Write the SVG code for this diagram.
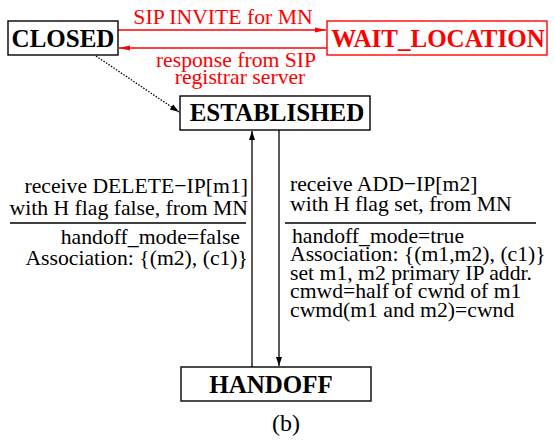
<svg xmlns="http://www.w3.org/2000/svg" width="555" height="443" viewBox="0 0 555 443">
<style>
text{font-family:"Liberation Serif","Times New Roman",serif;font-size:21.7px;fill:#000}
.title{font-weight:bold;font-size:25px;text-anchor:middle}
.red{fill:#ff0000}
.box{fill:#fff;stroke:#000;stroke-width:1.4}
.rbox{fill:#fff;stroke:#ff0000;stroke-width:1.4}
.ln{stroke:#000;stroke-width:1.3;fill:none}
.rln{stroke:#ff0000;stroke-width:1.3;fill:none}
.end{text-anchor:end}
.mid{text-anchor:middle}
</style>
<defs>
<marker id="ah" markerWidth="10" markerHeight="8" refX="9" refY="4" orient="auto" markerUnits="userSpaceOnUse">
<path d="M0,1 L9,4 L0,7 Z" fill="#000"/>
</marker>
<marker id="rah" markerWidth="12" markerHeight="8" refX="11" refY="4" orient="auto" markerUnits="userSpaceOnUse">
<path d="M0,1.5 L11,4 L0,6.5 Z" fill="#ff0000"/>
</marker>
</defs>
<g id="connectors">
<line class="rln" x1="118" y1="30" x2="326" y2="30" marker-end="url(#rah)"/>
<line class="rln" x1="327" y1="48" x2="119" y2="48" marker-end="url(#rah)"/>
<line class="ln" x1="96" y1="56" x2="179" y2="112" stroke-dasharray="1.5,1.5" marker-end="url(#ah)"/>
<line class="ln" x1="252" y1="367" x2="252" y2="131" marker-end="url(#ah)"/>
<line class="ln" x1="279" y1="130" x2="279" y2="366" marker-end="url(#ah)"/>
<text class="red mid" x="223" y="24">SIP INVITE for MN</text>
<text class="red mid" x="236" y="67">response from SIP</text>
<text class="red mid" x="240" y="84">registrar server</text>
<g id="left-label">
<text class="end" x="248" y="193">receive DELETE−IP[m1]</text>
<text class="end" x="248" y="215">with H flag false, from MN</text>
<line class="ln" x1="10" y1="223" x2="246" y2="223"/>
<text class="end" x="240" y="244">handoff_mode=false</text>
<text class="end" x="248" y="265">Association: {(m2), (c1)}</text>
</g>
<g id="right-label">
<text x="290" y="191">receive ADD−IP[m2]</text>
<text x="290" y="211">with H flag set, from MN</text>
<line class="ln" x1="285" y1="223" x2="536" y2="223"/>
<text x="292" y="243">handoff_mode=true</text>
<text x="290" y="261">Association: {(m1,m2), (c1)}</text>
<text x="290" y="280">set m1, m2 primary IP addr.</text>
<text x="290" y="298">cmwd=half of cwnd of m1</text>
<text x="290" y="317">cwmd(m1 and m2)=cwnd</text>
</g>
</g>
<g id="closed">
<rect class="box" x="8" y="21" width="110" height="34"/>
<text class="title" x="63" y="47">CLOSED</text>
</g>
<g id="wait_location">
<rect class="rbox" x="327" y="21" width="220" height="34"/>
<text class="title red" x="438" y="47">WAIT_LOCATION</text>
</g>
<g id="established">
<rect class="box" x="180" y="96" width="190" height="34"/>
<text class="title" x="277" y="121">ESTABLISHED</text>
</g>
<g id="handoff">
<rect class="box" x="181" y="367" width="190" height="34"/>
<text class="title" x="271" y="393">HANDOFF</text>
</g>
<text class="mid" x="286" y="431" style="font-size:24px">(b)</text>
</svg>
